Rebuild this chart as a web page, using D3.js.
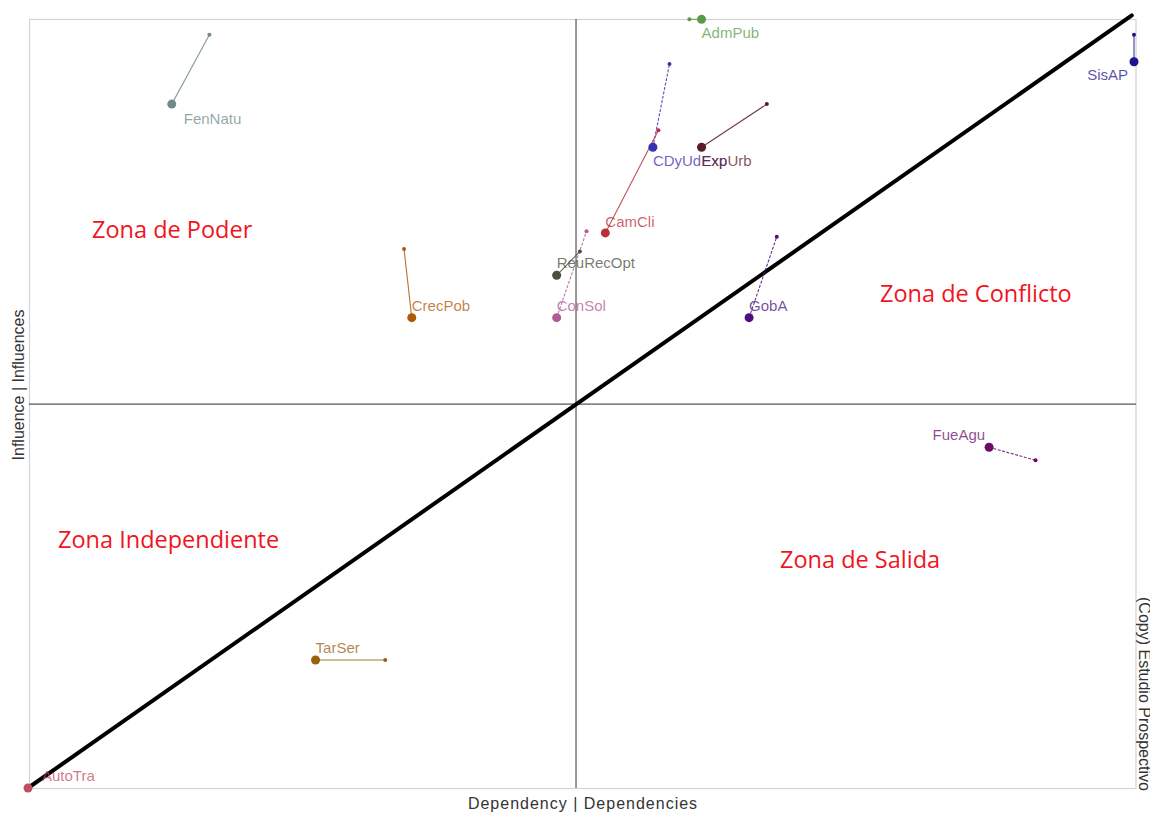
<!DOCTYPE html>
<html>
<head>
<meta charset="utf-8">
<script src="https://cdn.jsdelivr.net/npm/d3@7"></script>
<style>
  body { margin: 0; background: #fff; }
  svg { display: block; }
  .lbl { font-family: "Liberation Sans", Arial, sans-serif; font-size: 15px; }
  .axis-title { font-family: "Liberation Sans", Arial, sans-serif; font-size: 16px; fill: #333; }
  .zone { font-family: "Open Sans", sans-serif; font-size: 23.5px; fill: #f0141e; }
</style>
</head>
<body>
<div id="chart"></div>
<script>
var width = 1150,
    height = 814;

// variables (dependency, influence) : direct and indirect positions
var names = ["FenNatu", "AdmPub", "CDyUdExp", "ExpUrb", "CamCli", "ReuRecOpt", "ConSol",
             "CrecPob", "GobA", "SisAP", "FueAgu", "TarSer", "AutoTra"];
var depDirect   = [13.0, 60.9, 56.5, 60.9, 52.2, 47.8, 47.8, 34.7, 65.2, 100.0, 86.9, 26.0, 0.0];
var infDirect   = [88.7, 99.7, 83.1, 83.1, 72.0, 66.5, 61.0, 61.0, 61.0, 94.2, 44.2, 16.6, 0.0];
var depIndirect = [16.4, 59.8, 58.0, 66.8, 57.0, 49.9, 50.5, 34.0, 67.7, 100.0, 91.1, 32.3, 0.0];
var infIndirect = [97.7, 99.7, 93.9, 88.7, 85.3, 69.6, 72.2, 69.9, 71.5, 97.7, 42.5, 16.6, 0.0];

var meanDep = 49.55,
    meanInf = 49.8;

var zones = ["Zona de Poder", "Zona de Conflicto", "Zona Independiente", "Zona de Salida"];

// styling
var colors = ["#6f8a88", "#5a9a48", "#3a30b0", "#5a1a28", "#b8303a", "#4a5040", "#b05a98",
              "#b05808", "#4a1080", "#1e148c", "#6a0a6a", "#9a6010", "#c05060"];
var dashed = { CDyUdExp: true, GobA: true, FueAgu: true, ConSol: true };
// label placement relative to the direct point: [dx, dy, anchor]
var labelPos = {
  FenNatu: [12, 20, "start"], AdmPub: [0, 19, "start"], CDyUdExp: [0, 19, "start"],
  ExpUrb: [0, 19, "start"], SisAP: [-6, 18, "end"], CamCli: [0, -6, "start"],
  ReuRecOpt: [0, -7, "start"], ConSol: [0, -7, "start"], CrecPob: [0, -7, "start"],
  GobA: [0, -7, "start"], FueAgu: [-4, -7, "end"], TarSer: [0, -7, "start"],
  AutoTra: [14, -7, "start"]
};
var zonePos = [[92, 238], [880, 302], [58, 548], [780, 568]];

var x = d3.scaleLinear().domain([0, 100]).range([28, 1134]),
    y = d3.scaleLinear().domain([0, 100]).range([788, 17]);

var svg = d3.select("#chart").append("svg")
    .attr("width", width)
    .attr("height", height);

// frame
svg.append("rect")
    .attr("x", x(0) + 1.5)
    .attr("y", y(100) + 2.5)
    .attr("width", x(100) - x(0) + 0.5)
    .attr("height", y(0) - y(100) - 2)
    .attr("fill", "none")
    .attr("stroke", "#d4d4d4")
    .attr("stroke-width", 1.2);

// mean lines
svg.append("line")
    .attr("x1", x(meanDep)).attr("x2", x(meanDep))
    .attr("y1", y(100) + 2).attr("y2", y(0))
    .attr("stroke", "#555").attr("stroke-width", 1.2);
svg.append("line")
    .attr("x1", x(0) + 1).attr("x2", x(100) + 2)
    .attr("y1", y(meanInf)).attr("y2", y(meanInf))
    .attr("stroke", "#555").attr("stroke-width", 1.2);

// diagonal
svg.append("line")
    .attr("x1", x(0)).attr("y1", y(0))
    .attr("x2", x(99.8)).attr("y2", y(100.2))
    .attr("stroke", "#000").attr("stroke-width", 4)
    .attr("stroke-linecap", "round");

var data = names.map(function(n, i) {
  return { name: n, x0: depDirect[i], y0: infDirect[i], x1: depIndirect[i], y1: infIndirect[i], color: colors[i] };
});

var g = svg.append("g");

g.selectAll(".link").data(data).enter().append("line")
    .attr("class", "link")
    .attr("x1", function(d) { return x(d.x0); })
    .attr("y1", function(d) { return y(d.y0); })
    .attr("x2", function(d) { return x(d.x1); })
    .attr("y2", function(d) { return y(d.y1); })
    .attr("stroke", function(d) { return d.color; })
    .attr("stroke-opacity", 0.85)
    .attr("stroke-width", 1.1)
    .attr("stroke-dasharray", function(d) { return dashed[d.name] ? "3,1.5" : null; });

g.selectAll(".small").data(data).enter().append("circle")
    .attr("class", "small")
    .attr("cx", function(d) { return x(d.x1); })
    .attr("cy", function(d) { return y(d.y1); })
    .attr("r", 2)
    .attr("fill", function(d) { return d.color; });

g.selectAll(".big").data(data).enter().append("circle")
    .attr("class", "big")
    .attr("cx", function(d) { return x(d.x0); })
    .attr("cy", function(d) { return y(d.y0); })
    .attr("r", 4.5)
    .attr("fill", function(d) { return d.color; });

g.selectAll(".lbl").data(data).enter().append("text")
    .attr("class", "lbl")
    .attr("x", function(d) { return x(d.x0) + labelPos[d.name][0]; })
    .attr("y", function(d) { return y(d.y0) + labelPos[d.name][1]; })
    .attr("text-anchor", function(d) { return labelPos[d.name][2]; })
    .attr("fill", function(d) { return d.color; })
    .attr("fill-opacity", 0.75)
    .text(function(d) { return d.name; });

// zone labels
svg.selectAll(".zone").data(zones).enter().append("text")
    .attr("class", "zone")
    .attr("x", function(d, i) { return zonePos[i][0]; })
    .attr("y", function(d, i) { return zonePos[i][1]; })
    .text(function(d) { return d; });

// axis titles
svg.append("text")
    .attr("class", "axis-title")
    .attr("x", 583).attr("y", 809)
    .attr("text-anchor", "middle")
    .attr("letter-spacing", 1.0)
    .text("Dependency | Dependencies");

svg.append("text")
    .attr("class", "axis-title")
    .attr("transform", "translate(24,385) rotate(-90)")
    .attr("text-anchor", "middle")
    .text("Influence | Influences");

svg.append("text")
    .attr("class", "axis-title")
    .attr("transform", "translate(1139,597) rotate(90)")
    .text("(Copy) Estudio Prospectivo");
</script>
</body>
</html>
